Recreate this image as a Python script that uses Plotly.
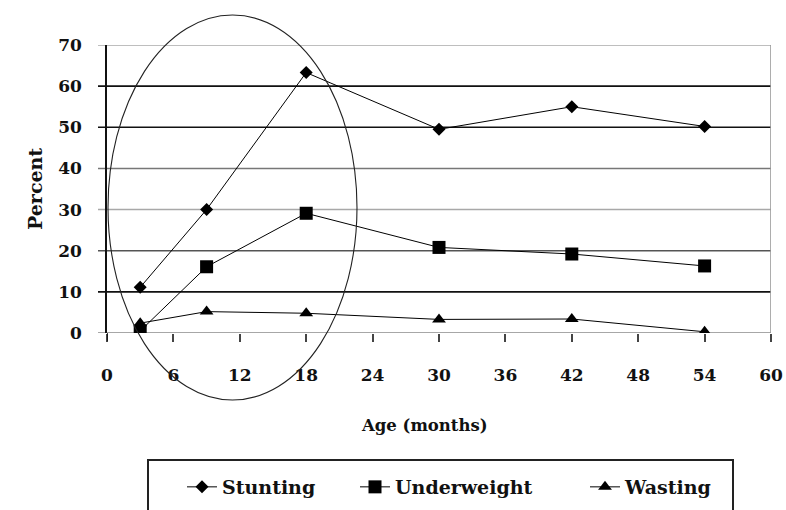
import plotly.graph_objects as go

# ---- data ----
age_months = [3, 9, 18, 30, 42, 54]
stunting = [11.1, 30.0, 63.3, 49.5, 55.0, 50.2]
underweight = [0.5, 16.1, 29.1, 20.8, 19.2, 16.3]
wasting = [2.4, 5.2, 4.8, 3.3, 3.4, 0.3]
series_names = ["Stunting", "Underweight", "Wasting"]
x_ticks = [0, 6, 12, 18, 24, 30, 36, 42, 48, 54, 60]
y_ticks = [0, 10, 20, 30, 40, 50, 60, 70]

# ---- style ----
W, H = 786, 510
L, R, T, B = 107, 771, 45, 333  # plot area in pixels
FONT = "DejaVu Serif"
grid_colors = ["#8a8a8a", "#111111", "#555555", "#a8a8a8",
               "#777777", "#111111", "#111111", "#a8a8a8"]
legend_text_px = [222, 395, 625]  # where each legend label starts

def px_to_paper(px, py):
    return (px - L) / (R - L), (B - py) / (B - T)

def bold(size):
    return dict(family=FONT, size=size, color="#111111", weight="bold")

fig = go.Figure()
symbols = ["diamond", "square", "triangle-up"]
sizes = [10, 13, 12]
legend_ids = ["legend", "legend2", "legend3"]
for name, vals, sym, sz, lid in zip(series_names, [stunting, underweight, wasting],
                                    symbols, sizes, legend_ids):
    fig.add_trace(go.Scatter(
        x=age_months, y=vals, name=name, mode="lines+markers",
        line=dict(color="black", width=1),
        marker=dict(symbol=sym, size=sz, color="black"),
        legend=lid,
    ))

shapes = []
for v, c in zip(y_ticks, grid_colors):
    shapes.append(dict(type="line", xref="paper", yref="y", x0=-9 / (R - L), x1=1,
                       y0=v, y1=v, line=dict(color=c, width=1.6), layer="below"))
# right border
shapes.append(dict(type="line", xref="x", yref="y", x0=60, x1=60, y0=0, y1=70,
                   line=dict(color="#999999", width=1.6), layer="below"))
# y axis line extension below zero
shapes.append(dict(type="line", xref="x", yref="paper", x0=0, x1=0, y0=-8 / (B - T), y1=0,
                   line=dict(color="#111111", width=1.6)))
# ellipse highlight
ex0, ey0 = px_to_paper(108, 400)
ex1, ey1 = px_to_paper(357, 15)
shapes.append(dict(type="circle", xref="paper", yref="paper", x0=ex0, x1=ex1, y0=ey0, y1=ey1,
                   line=dict(color="#222222", width=1.1), layer="above"))
# legend box
lx0, ly0 = px_to_paper(148, 520)
lx1, ly1 = px_to_paper(733, 460)
shapes.append(dict(type="rect", xref="paper", yref="paper", x0=lx0, x1=lx1, y0=ly0, y1=ly1,
                   line=dict(color="#222222", width=2), fillcolor="white", layer="below"))

ax_x, ax_y = px_to_paper(424, 437)
py_x, py_y = px_to_paper(22, 189)
annotations = [
    dict(text="Age (months)", xref="paper", yref="paper", x=ax_x, y=ax_y,
         showarrow=False, font=bold(16.5)),
    dict(text="Percent", xref="paper", yref="paper", x=py_x, y=py_y, textangle=-90,
         showarrow=False, font=bold(19)),
]

legends = {}
for lid, tx in zip(legend_ids, legend_text_px):
    lxp, lyp = px_to_paper(tx - 40, 487)
    legends[lid] = dict(orientation="h", x=lxp, y=lyp, xanchor="left", yanchor="middle",
                        xref="paper", yref="paper", bgcolor="rgba(0,0,0,0)", borderwidth=0,
                        font=bold(19), itemwidth=30)

fig.update_layout(
    width=W, height=H,
    margin=dict(l=L, r=W - R, t=T, b=H - B, pad=0, autoexpand=False),
    paper_bgcolor="white", plot_bgcolor="white",
    font=dict(family=FONT, size=17, color="#111111"),
    showlegend=True,
    shapes=shapes,
    annotations=annotations,
    **legends,
)
fig.update_xaxes(range=[0, 60], tickvals=x_ticks, showgrid=False, zeroline=False,
                 showline=False, ticks="outside", ticklen=8, tickwidth=1.6,
                 tickcolor="#444444", ticklabelstandoff=19,
                 tickfont=bold(17), fixedrange=True)
fig.update_yaxes(range=[0, 70], tickvals=y_ticks, showgrid=False, zeroline=False,
                 showline=True, linecolor="#111111", linewidth=1.6,
                 ticks="", ticklabelstandoff=20,
                 tickfont=bold(17), fixedrange=True)

fig.write_html("out.html", config={"displayModeBar": False},
               post_script="document.body.style.margin='0px';document.body.style.overflow='hidden';")
